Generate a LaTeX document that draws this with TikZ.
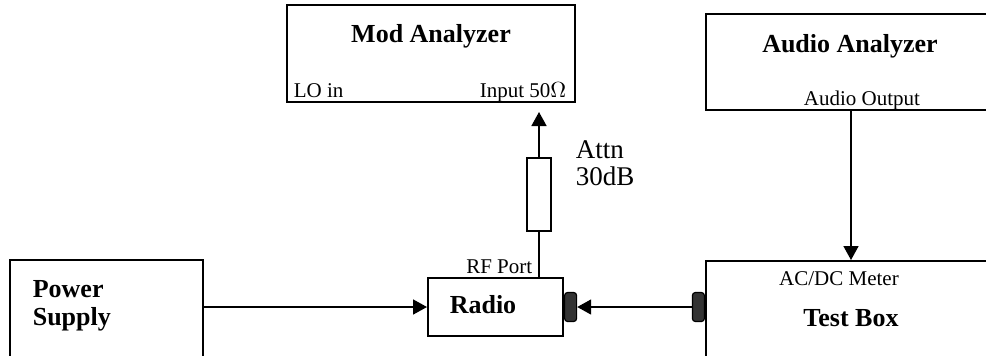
\documentclass[tikz,border=0pt]{standalone}
\usepackage{fontspec}
\setmainfont{Liberation Serif}
\usetikzlibrary{arrows.meta,positioning,calc}
\definecolor{portgray}{HTML}{333333}

\begin{document}
\begin{tikzpicture}[x=0.5pt,y=-0.5pt,>={Triangle[length=7pt,width=7.5pt]},
  line width=0.8pt,
  box/.style={draw,line width=1pt,inner sep=0pt},
  title/.style={inner sep=0pt,font=\fontsize{13}{14}\selectfont\bfseries},
  lab/.style={inner sep=0pt,font=\fontsize{10.5}{12}\selectfont},
  port/.style={draw,fill=portgray,rounded corners=1.5pt,line width=0.6pt,
               inner sep=0pt,minimum width=6pt,minimum height=14.5pt}]

% ---- canvas ----
\useasboundingbox (0,0) rectangle (986,355);
\fill[white] (0,0) rectangle (986,355);
\clip (0,0) rectangle (986,355);

% ---- instruments ----
\node[box,minimum width=144pt,minimum height=48.5pt] (modan) at (431,53.5) {};
\node[title,anchor=base] at (431,42) {Mod Analyzer};
\node[lab,anchor=base west] at (293,97) {LO in};
\node[lab,anchor=base east] at (567,97) {Input 50$\Omega$};

\node[box,minimum width=152pt,minimum height=48pt] (audan) at (858,62) {};
\node[title,anchor=base] at (850,52) {Audio Analyzer};
\node[lab,anchor=base] at (862,105) {Audio Output};

% ---- bench ----
\node[box,minimum width=96.5pt,minimum height=60pt] (power) at (106.5,320) {};
\node[title,anchor=base west] at (32,297) {Power};
\node[title,anchor=base west] at (32,325) {Supply};

\node[box,minimum width=67.5pt,minimum height=29pt] (radio) at (495.5,307) {};
\node[title,anchor=base] at (483,313) {Radio};
\node[lab,anchor=base east] at (533,273) {RF Port};

\node[box,minimum width=152pt,minimum height=59pt] (testbox) at (858,320) {};
\node[lab,anchor=base] at (839,285) {AC/DC Meter};
\node[title,anchor=base] at (851,326) {Test Box};

% connector blocks
\node[port,anchor=west] (rfblk) at (radio.east) {};
\node[port,anchor=east] (tbblk) at (testbox.west |- radio.east) {};

% attenuator
\node[draw,line width=0.8pt,minimum width=12pt,minimum height=36.5pt,inner sep=0pt] (attn) at (539,194.5) {};
\node[inner sep=0pt,anchor=base west,align=left,
      font=\fontsize{13.5}{13.5}\selectfont] at (575,185) {Attn\\30dB};

% ---- cables ----
\coordinate (rfp) at (539,278);
\coordinate (modin) at (539,112);
\coordinate (aout) at (851,110);
\draw (rfp) -- (attn.south);
\draw[->] (attn.north) -- (modin);
\draw[->] (aout) -- (aout |- testbox.north);
\draw[->] (radio.west -| power.east) -- (radio.west);
\draw[->] (tbblk.west) -- (rfblk.east);

\end{tikzpicture}
\end{document}
